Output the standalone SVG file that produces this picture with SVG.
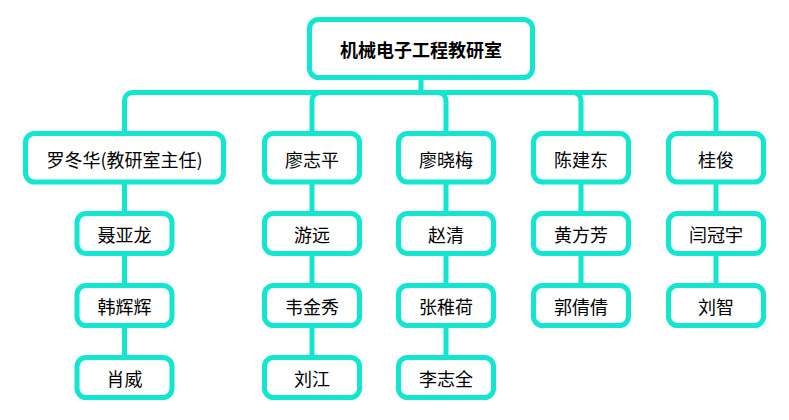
<svg xmlns="http://www.w3.org/2000/svg" width="789" height="420" viewBox="0 0 789 420">
<style>
.box{fill:#ffffff;stroke:#12E5D0;stroke-width:5}
.ln{fill:none;stroke:#12E5D0;stroke-width:5}
.t{font-family:"Noto Sans CJK SC","Noto Sans",sans-serif;font-size:18px;fill:#000000;text-anchor:middle;dominant-baseline:central}
.b{font-weight:bold}
</style>
<rect width="789" height="420" fill="#ffffff"/>
<g id="connectors">
<path class="ln" d="M421 77.5V92.5H132.5A8 8 0 0 0 124.5 100.5V133.5"/>
<path class="ln" d="M421 92.5H320A8 8 0 0 0 312 100.5V133.5"/>
<path class="ln" d="M421 92.5H438A8 8 0 0 1 446 100.5V133.5"/>
<path class="ln" d="M421 92.5H573A8 8 0 0 1 581 100.5V133.5"/>
<path class="ln" d="M421 92.5H708A8 8 0 0 1 716 100.5V133.5"/>
<path class="ln" d="M124.5 182V213.5M124.5 253.5V285.5M124.5 325.5V357.5"/>
<path class="ln" d="M312 182V213.5M312 253.5V285.5M312 325.5V357.5"/>
<path class="ln" d="M446 182V213.5M446 253.5V285.5M446 325.5V357.5"/>
<path class="ln" d="M581 182V213.5M581 253.5V285.5"/>
<path class="ln" d="M716 182V213.5M716 253.5V285.5"/>
</g>
<g id="root"><rect class="box" x="309.5" y="19.5" width="223" height="58" rx="9"/><text class="t b" x="421" y="49">机械电子工程教研室</text></g>
<g id="n1"><rect class="box" x="25.5" y="133.5" width="198" height="48.5" rx="9"/><text class="t" x="124.5" y="158.5">罗冬华(教研室主任)</text></g>
<g id="n2"><rect class="box" x="264.5" y="133.5" width="95" height="48.5" rx="9"/><text class="t" x="312" y="158.5">廖志平</text></g>
<g id="n3"><rect class="box" x="398.5" y="133.5" width="95" height="48.5" rx="9"/><text class="t" x="446" y="158.5">廖晓梅</text></g>
<g id="n4"><rect class="box" x="533.5" y="133.5" width="95" height="48.5" rx="9"/><text class="t" x="581" y="158.5">陈建东</text></g>
<g id="n5"><rect class="box" x="668.5" y="133.5" width="95" height="48.5" rx="9"/><text class="t" x="716" y="158.5">桂俊</text></g>
<g id="n1a"><rect class="box" x="77" y="213.5" width="95" height="40" rx="9"/><text class="t" x="124.5" y="234">聂亚龙</text></g>
<g id="n1b"><rect class="box" x="77" y="285.5" width="95" height="40" rx="9"/><text class="t" x="124.5" y="306">韩辉辉</text></g>
<g id="n1c"><rect class="box" x="77" y="357.5" width="95" height="40" rx="9"/><text class="t" x="124.5" y="378">肖威</text></g>
<g id="n2a"><rect class="box" x="264.5" y="213.5" width="95" height="40" rx="9"/><text class="t" x="312" y="234">游远</text></g>
<g id="n2b"><rect class="box" x="264.5" y="285.5" width="95" height="40" rx="9"/><text class="t" x="312" y="306">韦金秀</text></g>
<g id="n2c"><rect class="box" x="264.5" y="357.5" width="95" height="40" rx="9"/><text class="t" x="312" y="378">刘江</text></g>
<g id="n3a"><rect class="box" x="398.5" y="213.5" width="95" height="40" rx="9"/><text class="t" x="446" y="234">赵清</text></g>
<g id="n3b"><rect class="box" x="398.5" y="285.5" width="95" height="40" rx="9"/><text class="t" x="446" y="306">张稚荷</text></g>
<g id="n3c"><rect class="box" x="398.5" y="357.5" width="95" height="40" rx="9"/><text class="t" x="446" y="378">李志全</text></g>
<g id="n4a"><rect class="box" x="533.5" y="213.5" width="95" height="40" rx="9"/><text class="t" x="581" y="234">黄方芳</text></g>
<g id="n4b"><rect class="box" x="533.5" y="285.5" width="95" height="40" rx="9"/><text class="t" x="581" y="306">郭倩倩</text></g>
<g id="n5a"><rect class="box" x="668.5" y="213.5" width="95" height="40" rx="9"/><text class="t" x="716" y="234">闫冠宇</text></g>
<g id="n5b"><rect class="box" x="668.5" y="285.5" width="95" height="40" rx="9"/><text class="t" x="716" y="306">刘智</text></g>
</svg>
